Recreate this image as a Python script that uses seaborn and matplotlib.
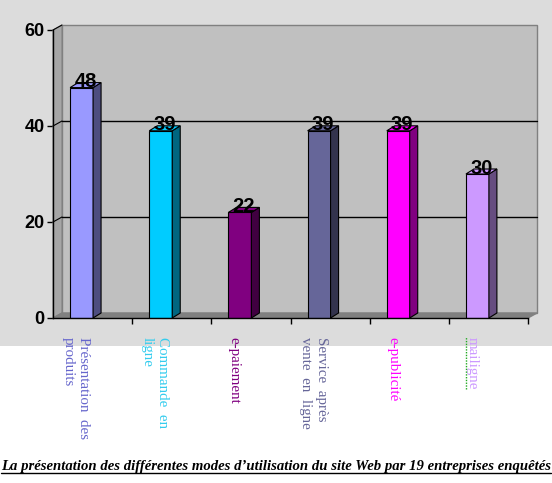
import matplotlib.pyplot as plt
import seaborn as sns
import pandas as pd
from matplotlib.patches import Polygon, Rectangle
from matplotlib.lines import Line2D
import matplotlib.colors as mcolors

# data
categories = ["Présentation  des\nproduits", "Commande  en\nligne", "e-paiement",
              "Service  après\nvente  en  ligne", "e-publicité", "mailigne"]
values = [48, 39, 22, 39, 39, 30]
bar_colors = ["#9999ff", "#00ccff", "#800080", "#666699", "#ff00ff", "#cc99ff"]
label_colors = ["#6666cc", "#33ccee", "#800080", "#666699", "#ff00ff", "#cc99ff"]
caption = ("La présentation des différentes modes d’utilisation du site Web "
           "par 19 entreprises enquêtés")

df = pd.DataFrame({"mode": categories, "pct": values})

sns.set_style("white")
W, H = 552, 483
fig = plt.figure(figsize=(W / 100, H / 100), dpi=100)
fig.patch.set_facecolor("white")

# gray top panel behind the chart
bg = fig.add_axes([0, 1 - 346 / H, 1, 346 / H], zorder=-5)
bg.set_facecolor("#dcdcdc")
bg.set_xticks([])
bg.set_yticks([])
for s in bg.spines.values():
    s.set_visible(False)

ax = fig.add_axes([53 / W, 1 - 318 / H, 475 / W, 288 / H], zorder=1)
ax.patch.set_alpha(0)

sns.barplot(data=df, x="mode", y="pct", hue="mode", palette=bar_colors,
            width=0.29, edgecolor="black", linewidth=0.8, legend=False,
            saturation=1, ax=ax, zorder=3)

# bars sit a little left of the category centre (3d projection look)
shift = 11 / (475 / 6)
x_lo, x_hi = -0.5 + shift, 5.5 + shift
ax.set_xlim(x_lo, x_hi)
ax.set_ylim(0, 60)

# depth offsets in data units
dx = 8 / (475 / 6)
dy = 5 / (288 / 60)
wdx = 9 / (475 / 6)
wdy = 5 / (288 / 60)

# back wall, side wall and floor
ax.add_patch(Polygon([(x_lo + wdx, wdy), (x_lo + wdx, 60 + wdy), (x_hi + wdx, 60 + wdy),
                      (x_hi + wdx, wdy)], closed=True, facecolor="#c0c0c0",
                     edgecolor="#808080", linewidth=1, zorder=1, clip_on=False))
ax.add_patch(Polygon([(x_lo, 0), (x_lo + wdx, wdy), (x_lo + wdx, 60 + wdy), (x_lo, 60)],
                     closed=True, facecolor="#a6a6a6", edgecolor="#808080",
                     linewidth=0.8, zorder=1.2, clip_on=False))
ax.add_patch(Polygon([(x_lo, 0), (x_lo + wdx, wdy), (x_hi + wdx, wdy), (x_hi, 0)],
                     closed=True, facecolor="#808080", edgecolor="#808080",
                     zorder=1.5, clip_on=False))
for gy in [20, 40, 60]:
    if gy < 60:
        ax.plot([x_lo + wdx, x_hi + wdx], [gy + wdy, gy + wdy], color="black",
                lw=1, zorder=2, clip_on=False)
    ax.plot([x_lo, x_lo + wdx], [gy, gy + wdy], color="black", lw=0.8,
            zorder=2, clip_on=False)

# 3d faces on each bar
for bar, col in zip(ax.patches, bar_colors):
    if not isinstance(bar, Rectangle) or bar.get_height() <= 0:
        continue
    x0, w, h = bar.get_x(), bar.get_width(), bar.get_height()
    rgb = mcolors.to_rgb(col)
    side = tuple(c * 0.5 for c in rgb)
    ax.add_patch(Polygon([(x0 + w, 0), (x0 + w, h), (x0 + w + dx, h + dy), (x0 + w + dx, dy)],
                         closed=True, facecolor=side, edgecolor="black", lw=0.8,
                         zorder=3, clip_on=False))
    ax.add_patch(Polygon([(x0, h), (x0 + dx, h + dy), (x0 + w + dx, h + dy), (x0 + w, h)],
                         closed=True, facecolor=col, edgecolor="black", lw=0.8,
                         zorder=3, clip_on=False))

for i, v in enumerate(values):
    ax.text(i + 0.05, v + 0.1, str(v), ha="center", va="baseline",
            fontsize=14.5, fontweight="bold", family="Liberation Sans",
            color="black", zorder=5)

# axes styling
for s in ["top", "right"]:
    ax.spines[s].set_visible(False)
for s in ["left", "bottom"]:
    ax.spines[s].set_color("black")
    ax.spines[s].set_linewidth(1)
    ax.spines[s].set_zorder(4)
ax.set_yticks([0, 20, 40, 60])
ax.set_yticklabels(["0", "20", "40", "60"], fontsize=13, fontweight="bold",
                   family="Liberation Sans", color="black")
ax.tick_params(axis="y", direction="out", length=4, width=1, pad=2, left=True,
               color="black")
ax.set_xticks([i + 0.5 + shift for i in range(6)])
ax.set_xticklabels([])
ax.tick_params(axis="x", direction="out", length=4, width=1, bottom=True,
               color="black")
ax.set_xlabel("")
ax.set_ylabel("")

cat_texts = []
for i, (lab, c) in enumerate(zip(categories, label_colors)):
    cat_texts.append(ax.text(i - 0.07, -0.065, lab, transform=ax.get_xaxis_transform(),
                             rotation=270, ha="center", va="top", multialignment="left",
                             fontsize=10.8, family="Liberation Serif", color=c,
                             linespacing=1.25))

# caption with underline
t = fig.text(1 / W, 1 - 470 / H, caption, ha="left", va="baseline",
             fontsize=10.6, fontweight="bold", fontstyle="italic",
             family="Liberation Serif", color="black")
fig.canvas.draw()
renderer = fig.canvas.get_renderer()
bb = t.get_window_extent(renderer)
uy = (bb.y0 + 0.5) / H
fig.lines.append(Line2D([bb.x0 / W, bb.x1 / W], [uy, uy], transform=fig.transFigure,
                        color="black", lw=1))

# spell-check squiggle beside "mailigne"
mb = cat_texts[-1].get_window_extent(renderer)
fig.lines.append(Line2D([(mb.x0 + 1) / W, (mb.x0 + 1) / W], [mb.y0 / H, mb.y1 / H],
                        transform=fig.transFigure, color="#22aa22", lw=1,
                        linestyle=(0, (1, 1))))

fig.savefig("out.png", dpi=100)
